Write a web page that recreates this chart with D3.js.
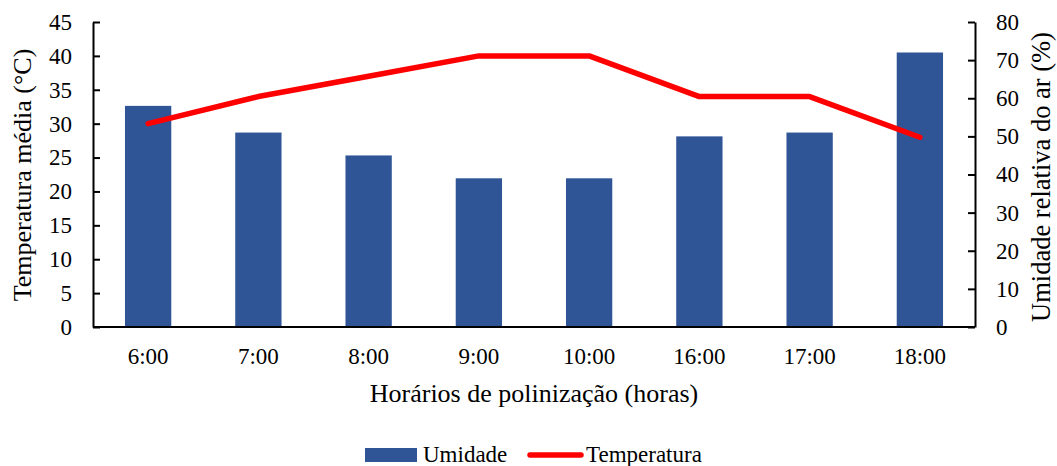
<!DOCTYPE html>
<html><head><meta charset="utf-8">
<script src="https://cdn.jsdelivr.net/npm/d3@7"></script>
<style>body{margin:0;background:#fff}svg{display:block}</style>
</head><body>
<script>
const categories = ["6:00","7:00","8:00","9:00","10:00","16:00","17:00","18:00"];
const umidade = [58, 51, 45, 39, 39, 50, 51, 72];
const temperatura = [30, 34, 37, 40, 40, 34, 34, 28];
const leftTicks = [0,5,10,15,20,25,30,35,40,45];
const rightTicks = [0,10,20,30,40,50,60,70,80];

const W = 1057, H = 466;
const m = {l:93, r:W-975, t:22, b:H-327};
const font = "'Liberation Serif','Times New Roman',serif";
const svg = d3.select("body").append("svg").attr("width",W).attr("height",H);

const x = d3.scaleBand().domain(categories).range([m.l, W-m.r]).paddingInner(0.58).paddingOuter(0.29);
const yL = d3.scaleLinear().domain([0,45]).range([H-m.b, m.t]);
const yR = d3.scaleLinear().domain([0,80]).range([H-m.b, m.t]);

svg.selectAll("rect.bar").data(umidade).join("rect").attr("class","bar")
  .attr("x",(d,i)=>x(categories[i])).attr("width",x.bandwidth())
  .attr("y",d=>yR(d)).attr("height",d=>yR(0)-yR(d)).attr("fill","#2F5597");

const line = d3.line().x((d,i)=>x(categories[i])+x.bandwidth()/2).y(d=>yL(d));
svg.append("path").datum(temperatura).attr("d",line).attr("fill","none")
  .attr("stroke","#FF0000").attr("stroke-width",5.5).attr("stroke-linecap","round").attr("stroke-linejoin","round");

const gL = svg.append("g").attr("transform",`translate(${m.l},0)`)
  .call(d3.axisLeft(yL).tickValues(leftTicks).tickSizeInner(-7).tickSizeOuter(0).tickPadding(21));
const gR = svg.append("g").attr("transform",`translate(${W-m.r},0)`)
  .call(d3.axisRight(yR).tickValues(rightTicks).tickSizeInner(-7).tickSizeOuter(0).tickPadding(21));
const gX = svg.append("g").attr("transform",`translate(0,${H-m.b})`)
  .call(d3.axisBottom(x).tickSize(0).tickPadding(21));
[gL,gR,gX].forEach(g=>{
  g.selectAll("path,line").attr("stroke","#000").attr("stroke-width",2);
  g.selectAll("text").attr("font-family",font).attr("font-size",23).attr("fill","#000");
});
gX.select("path.domain").attr("d",`M${m.l},0H${W-m.r}`);

svg.append("text").attr("transform",`translate(31,175) rotate(-90)`)
  .attr("text-anchor","middle").attr("font-family",font).attr("font-size",26).text("Temperatura média (°C)");
svg.append("text").attr("transform",`translate(1050,177) rotate(-90)`)
  .attr("text-anchor","middle").attr("font-family",font).attr("font-size",26.5).text("Umidade relativa do ar (%)");
svg.append("text").attr("x",(m.l+W-m.r)/2).attr("y",402).attr("text-anchor","middle")
  .attr("font-family",font).attr("font-size",26).text("Horários de polinização (horas)");

const lg = svg.append("g");
lg.append("rect").attr("x",365).attr("y",448).attr("width",52).attr("height",14).attr("fill","#2F5597");
lg.append("text").attr("x",423).attr("y",462).attr("font-family",font).attr("font-size",23).text("Umidade");
lg.append("line").attr("x1",530).attr("x2",581).attr("y1",455).attr("y2",455).attr("stroke","#FF0000").attr("stroke-width",5.5).attr("stroke-linecap","round");
lg.append("text").attr("x",586).attr("y",462).attr("font-family",font).attr("font-size",23).text("Temperatura");
</script>
</body></html>
